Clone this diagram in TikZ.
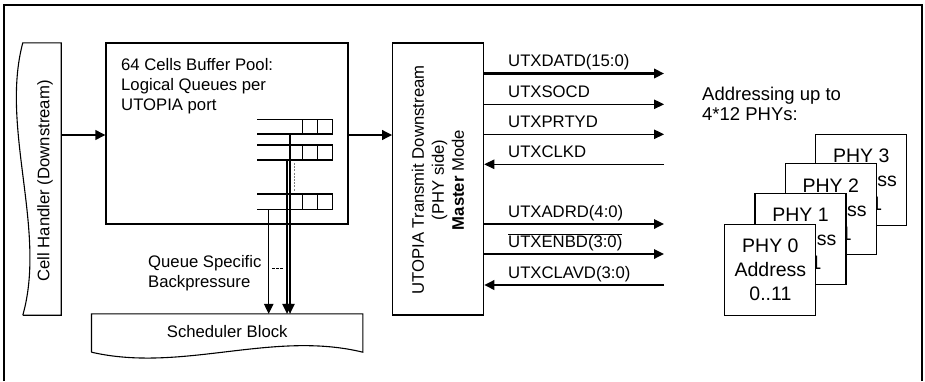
\documentclass[tikz,border=0pt]{standalone}
\usepackage{fontspec}
\setmainfont{Liberation Sans}
\usetikzlibrary{arrows.meta}
\begin{document}
\begin{tikzpicture}[x=1pt,y=-1pt,
  box/.style={draw, line width=1.1pt, inner sep=0pt},
  txt/.style={font=\fontsize{16.7}{20}\selectfont},
  arr/.style={-{Triangle[length=10pt,width=9.5pt]}},
  thick2/.style={line width=2.2pt},
  thin1/.style={line width=1.1pt},
  lab/.style={txt, anchor=base west, inner sep=0pt},
  phy/.style={draw, fill=white, line width=1.1pt, inner sep=0pt, minimum width=91pt, minimum height=91pt,
    align=center, font=\fontsize{19.5}{24}\selectfont},
]
\useasboundingbox (0,0) rectangle (925,381);
% outer frame
\draw[line width=2pt] (4,381) -- (4,5) -- (921.5,5) -- (921.5,381);

% Cell handler
\node[inner sep=0pt, minimum width=38pt, minimum height=272pt] (ch) at (42,179) {};
\draw[thin1] (ch.south west) -- (ch.south east) -- (ch.north east) -- (ch.north west)
  .. controls (0,128) and (47,230) .. (ch.south west);
\node[txt, rotate=90] (cht) at (45,181) {Cell Handler (Downstream)};

% Buffer pool
\node[box, minimum width=242pt, minimum height=181pt] (pool) at (227,133.5) {};
\node[txt, align=left, anchor=north west, inner sep=0pt] (poolt) at (121,57.8)
  {64 Cells Buffer Pool:\\Logical Queues per\\UTOPIA port};

% queues
\foreach \t/\b in {119.3/134, 145/160, 194/209.3}{
  \draw[thin1] (257,\t) -- (332.7,\t) -- (332.7,\b) -- (257,\b);
  \draw[thin1] (302.7,\t) -- (302.7,\b) (317.3,\t) -- (317.3,\b);
}
\draw[line width=1.3pt, gray, dash pattern=on 2pt off 1.2pt] (294.3,163) -- (294.3,191);

% UTOPIA block
\node[box, minimum width=91pt, minimum height=272pt] (utp) at (438.2,179) {};
\node[txt, rotate=90, align=center] (utt) at (438,180)
  {UTOPIA Transmit Downstream\\(PHY side)\\\textbf{Master} Mode};

% Scheduler block
\node[inner sep=0pt, minimum width=271pt, minimum height=38pt] (sch) at (227.2,333) {};
\draw[thin1] (sch.south west) -- (sch.north west) -- (sch.north east) -- (sch.south east)
  .. controls (272,330) and (182,373) .. (sch.south west);
\node[txt, anchor=base] (scht) at (227.2,337.3) {Scheduler Block};

% main arrows
\coordinate (ya) at (0,135);
\draw[arr, thick2] (ch.east |- ya) -- (pool.west |- ya);
\draw[arr, thick2] (pool.east |- ya) -- (utp.west |- ya);

% queue outputs
\coordinate (q1) at (290,134);
\coordinate (q2) at (287,160);
\coordinate (q3) at (268.7,209.3);
\draw[arr, thin1] (q1) -- (q1 |- sch.north);
\draw[arr, thin1] (q2) -- (q2 |- sch.north);
\draw[arr, thin1] (q3) -- (q3 |- sch.north);
\draw[line width=0.9pt, dash pattern=on 2.5pt off 1.5pt] (272.3,268.3) -- (284.3,268.3);
\node[txt, align=left, anchor=north west, inner sep=0pt] (bp) at (148,255)
  {Queue Specific\\Backpressure};

% signals
\coordinate (s1) at (664,73.5);
\coordinate (s2) at (664,104.3);
\coordinate (s3) at (664,134.3);
\coordinate (s4) at (664,164.3);
\coordinate (s5) at (664,224);
\coordinate (s6) at (664,254);
\coordinate (s7) at (664,285);
\draw[arr, thick2] (utp.east |- s1) -- (s1);
\draw[arr, thin1] (utp.east |- s2) -- (s2);
\draw[arr, thin1] (utp.east |- s3) -- (s3);
\draw[arr, thin1] (s4) -- (utp.east |- s4);
\draw[arr, line width=1.7pt] (utp.east |- s5) -- (s5);
\draw[arr, line width=1.7pt] (utp.east |- s6) -- (s6);
\draw[arr, line width=1.9pt] (s7) -- (utp.east |- s7);
\node[lab] (l1) at (508,66.8) {UTXDATD(15:0)};
\node[lab] (l2) at (508,97.6) {UTXSOCD};
\node[lab] (l3) at (508,127.6) {UTXPRTYD};
\node[lab] (l4) at (508,157.6) {UTXCLKD};
\node[lab] (l5) at (508,217.3) {UTXADRD(4:0)};
\node[lab] (l6) at (508,247.3) {$\overline{\mbox{UTXENBD(3:0)}}$};
\node[lab] (l7) at (508,278.3) {UTXCLAVD(3:0)};

% addressing text
\node[font=\fontsize{18.5}{20}\selectfont, align=left, anchor=north west, inner sep=0pt] (adr) at (702,87)
  {Addressing up to\\4*12 PHYs:};

% PHY boxes
\node[phy] (p3) at (861.2,179.8) {PHY 3\\Address\\0..11};
\node[phy] (p2) at (830.8,209.3) {PHY 2\\Address\\0..11};
\node[phy] (p1) at (800.5,239.2) {PHY 1\\Address\\0..11};
\node[phy] (p0) at (770.4,269.8) {PHY 0\\Address\\0..11};
\end{tikzpicture}
\end{document}
